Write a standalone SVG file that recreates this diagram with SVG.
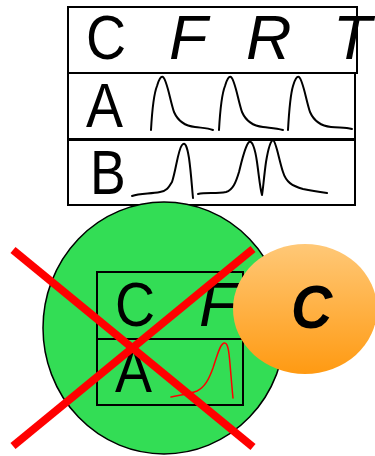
<svg xmlns="http://www.w3.org/2000/svg" width="375" height="456" viewBox="0 0 375 456">
  <defs>
    <linearGradient id="orangeFill" x1="0" y1="0" x2="0" y2="1">
      <stop offset="0" stop-color="#FFC877"/>
      <stop offset="1" stop-color="#FF9A12"/>
    </linearGradient>
    <style>
      .box { fill: none; stroke: #000; stroke-width: 2; }
      .lbl { font-family: "Liberation Sans", Arial, sans-serif; font-size: 63px; fill: #000; }
      .it { font-style: italic; }
      .trace { fill: none; stroke: #000; stroke-width: 2; stroke-linecap: round; stroke-linejoin: round; }
      .cross { stroke: #FF0000; stroke-width: 8; }
    </style>
  </defs>

  <!-- table of sequences: header row and two traces -->
  <g id="row-C">
    <rect class="box" x="68" y="7" width="289" height="66"/>
    <text class="lbl" x="0" y="59" transform="translate(86 0) scale(0.88 1)">C</text>
    <text class="lbl it" x="169" y="59">F</text>
    <text class="lbl it" x="246" y="59">R</text>
    <text class="lbl it" x="333" y="59">T</text>
  </g>

  <g id="row-A">
    <rect class="box" x="68" y="73" width="287" height="66"/>
    <text class="lbl" x="0" y="127" transform="translate(86 0) scale(0.88 1)">A</text>
    <path class="trace" d="M151 130 C152 112 153 96 157 86 C159 79 161 76 163 77 C167 80 170 100 174 112 C178 121 185 126 195 127 C203 128 208 128 213 130"/>
    <path class="trace" d="M219 130 C220 112 221 96 225 86 C227 79 229 76 231 77 C235 80 238 100 242 112 C246 121 253 126 263 127 C271 128 276 128 283 130"/>
    <path class="trace" d="M288 130 C289 112 290 96 293 86 C295 79 297 76 299 77 C303 80 306 100 310 112 C314 121 321 126 331 127 C339 128 345 127 352 129"/>
  </g>

  <g id="row-B">
    <rect class="box" x="68" y="140" width="287" height="65"/>
    <text class="lbl" x="0" y="194" transform="translate(90 0) scale(0.85 1)">B</text>
    <path class="trace" d="M132 196 C140 193 150 194 160 192 C167 191 169 187 172 182 C176 170 178 150 182 145 C185 141 187 146 189 158 C191 172 192 188 193 198"/>
    <path class="trace" d="M198 194 C206 192 216 194 226 192 C233 190 236 182 239 172 C242 160 245 146 249 142 C252 140 255 148 257 162 C259 176 260 188 262 195 C263 190 264 176 266 162 C268 150 270 141 273 140 C276 141 279 160 283 172 C286 182 292 186 303 189 C313 191 320 192 327 193"/>
  </g>

  <!-- green cell with the crossed-out fragment -->
  <g id="green-cell">
    <ellipse cx="164" cy="328" rx="121" ry="126" fill="#33DD55" stroke="#000" stroke-width="1.5"/>
    <rect class="box" x="97" y="272" width="146" height="67"/>
    <rect class="box" x="97" y="339" width="146" height="66"/>
    <text class="lbl" x="0" y="326" transform="translate(115 0) scale(0.88 1)">C</text>
    <text class="lbl it" x="199" y="326">F</text>
    <text class="lbl" x="0" y="392" transform="translate(115 0) scale(0.88 1)">A</text>
    <path d="M171 397 C180 395 190 394 197 391 C205 387 209 379 213 368 C217 356 220 344 224 343 C228 342 229 352 230 364 C231 376 232 388 233 398" fill="none" stroke="#FF0000" stroke-width="1.5" stroke-linecap="round"/>
  </g>

  <g id="orange-cell">
    <ellipse cx="305" cy="309" rx="72" ry="65" fill="url(#orangeFill)"/>
    <text x="0" y="328" transform="translate(291 0) scale(0.92 1)" font-family="'Liberation Sans', Arial, sans-serif" font-size="62" font-weight="bold" font-style="italic" fill="#000">C</text>
  </g>

  <!-- red cross over the green cell -->
  <g id="connectors">
    <line class="cross" x1="13" y1="250" x2="253" y2="447"/>
    <line class="cross" x1="253" y1="249" x2="13" y2="446"/>
  </g>
</svg>
